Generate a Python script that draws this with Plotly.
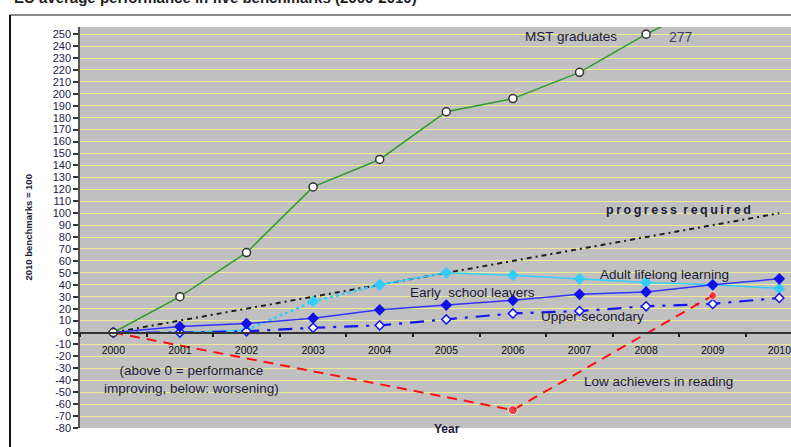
import plotly.graph_objects as go

# ---------------- data ----------------
years = [2000, 2001, 2002, 2003, 2004, 2005, 2006, 2007, 2008, 2009, 2010]
year_labels = [str(y) for y in years]

mst_graduates = [0, 30, 67, 122, 145, 185, 196, 218, 250, 277, None]
progress_required = [0, 10, 20, 30, 40, 50, 60, 70, 80, 90, 100]
adult_lifelong = [0, 0, 2, 26, 40, 50, 48, 45, 42, 40, 37]
early_school_leavers = [0, 5, 7.5, 12, 19, 23, 27, 32, 34, 40, 45]
upper_secondary = [0, 0, 1, 4, 6, 11, 16, 18, 22, 24, 29]
low_achievers = [0, None, None, None, None, None, -65, None, None, 31, None]

y_ticks = list(range(-80, 251, 10))

# break in adult lifelong learning series (2002-2004 dotted)
adult_break_years = [2002, 2003, 2004]

# ---------------- layout helpers ----------------
W, H = 791, 447
L, R, T, B = 80, 0, 27, 19
PW, PH = W - L - R, H - T - B
Y_MIN, Y_MAX = -80, 256
X_MIN = 1999.5
X_MAX = X_MIN + PW / 66.6


def px_x(p):
    return (p - L) / PW


def px_y(q):
    return (H - B - q) / PH


TXT = "#1c1c3a"
FONT = "Liberation Sans, Arial, sans-serif"

fig = go.Figure()

# progress required
fig.add_trace(go.Scatter(
    x=years, y=progress_required, mode="lines",
    line=dict(color="#202020", width=2, dash="5px,4px,2px,4px"),
    showlegend=False, hoverinfo="skip"))

# adult lifelong learning: solid parts + dotted break
adult_solid = [None if y == 2003 else v for y, v in zip(years, adult_lifelong)]
adult_dotted = [v if y in adult_break_years else None for y, v in zip(years, adult_lifelong)]
fig.add_trace(go.Scatter(
    x=years, y=adult_dotted, mode="lines+markers",
    line=dict(color="#33CCFF", width=2.5, dash="dot"),
    marker=dict(symbol="diamond", size=9, color="#33CCFF"),
    showlegend=False, hoverinfo="skip"))
fig.add_trace(go.Scatter(
    x=years, y=adult_solid, mode="lines+markers", connectgaps=False,
    line=dict(color="#33CCFF", width=1.5),
    marker=dict(symbol="diamond", size=9, color="#33CCFF"),
    showlegend=False, hoverinfo="skip"))

# upper secondary
fig.add_trace(go.Scatter(
    x=years, y=upper_secondary, mode="lines+markers",
    line=dict(color="#1414F0", width=2.2, dash="14px,8px,3px,8px"),
    marker=dict(symbol="diamond", size=7, color="white",
                line=dict(color="#1414F0", width=1.5)),
    showlegend=False, hoverinfo="skip"))

# early school leavers
fig.add_trace(go.Scatter(
    x=years, y=early_school_leavers, mode="lines+markers",
    line=dict(color="#3333FF", width=1.5),
    marker=dict(symbol="diamond", size=9, color="#1010E8"),
    showlegend=False, hoverinfo="skip"))

# low achievers in reading
fig.add_trace(go.Scatter(
    x=years, y=low_achievers, mode="lines+markers", connectgaps=True,
    line=dict(color="#FF1010", width=2, dash="10px,7px"),
    marker=dict(symbol="circle", size=[5, 0, 0, 0, 0, 0, 9, 0, 0, 8, 0], color="#FF1010"),
    showlegend=False, hoverinfo="skip"))

# MST graduates
fig.add_trace(go.Scatter(
    x=years, y=mst_graduates, mode="lines+markers",
    line=dict(color="#2E9B2E", width=1.5),
    marker=dict(symbol="circle", size=8, color="white",
                line=dict(color="#333333", width=1.5)),
    showlegend=False, hoverinfo="skip"))

TS = 13.5
thin = "\u2009"
annotations = [
    dict(x=2006.87, y=248, text="MST graduates", font=dict(size=TS, color=TXT)),
    dict(x=2008.48, y=103,
         text="<b>" + (thin.join("progress") + "\u2002" + thin.join("required")) + "</b>",
         font=dict(size=12.5, color=TXT)),
    dict(x=2008.27, y=48.6, text="Adult lifelong learning", font=dict(size=TS, color=TXT)),
    dict(x=2005.39, y=33.5, text="Early  school leavers", font=dict(size=TS, color=TXT)),
    dict(x=2007.20, y=13.4, text="Upper secondary", font=dict(size=TS, color=TXT)),
    dict(x=2008.18, y=-41, text="Low achievers in reading", font=dict(size=TS, color=TXT)),
    dict(x=2001.18, y=-39, text="(above 0 = performance<br>improving, below: worsening)",
         font=dict(size=TS, color=TXT)),
]
for a in annotations:
    a.update(xref="x", yref="y", showarrow=False, xanchor="center", yanchor="middle")
    a["font"]["family"] = FONT

# value label of the off-scale 2009 MST point
mst_2009 = mst_graduates[years.index(2009)]
annotations += [
    dict(xref="paper", yref="paper", x=px_x(695), y=px_y(27), text=str(mst_2009),
         showarrow=False, font=dict(size=14, color="#3a3a66", family=FONT)),
    dict(xref="paper", yref="paper", x=px_x(447), y=px_y(438), text="<b>Year</b>",
         showarrow=False, font=dict(size=12, color=TXT, family=FONT)),
    dict(xref="paper", yref="paper", x=px_x(20), y=px_y(228), text="<b>2010 benchmarks = 100</b>",
         textangle=-90, showarrow=False, font=dict(size=9.5, color=TXT, family=FONT)),
    dict(xref="paper", yref="paper", x=px_x(12), y=px_y(-2), xanchor="left", yanchor="middle",
         text="<b>EU average performance in five benchmarks (2000-2010)</b>",
         showarrow=False, font=dict(size=15, color="#202020", family=FONT)),
]

shapes = [
    dict(type="line", xref="paper", yref="paper", x0=px_x(10), x1=px_x(W + 5),
         y0=px_y(15), y1=px_y(15), line=dict(color="#8a8a8a", width=2)),
    dict(type="line", xref="paper", yref="paper", x0=px_x(10), x1=px_x(10),
         y0=px_y(15), y1=px_y(H + 5), line=dict(color="#111111", width=2)),
]

zero_pos = (0 - Y_MIN) / (Y_MAX - Y_MIN)

fig.update_layout(
    width=W, height=H,
    margin=dict(l=L, r=R, t=T, b=B, pad=0, autoexpand=False),
    paper_bgcolor="white",
    plot_bgcolor="#C0C0C0",
    annotations=annotations,
    shapes=shapes,
    font=dict(family=FONT, color=TXT),
    xaxis=dict(
        range=[X_MIN, X_MAX],
        tickmode="array", tickvals=years, ticktext=year_labels,
        ticks="outside", ticklen=8, tickcolor="rgba(0,0,0,0)",
        tickfont=dict(size=10.5, color="#111111", family=FONT),
        ticklabeloverflow="allow",
        showgrid=False, zeroline=False,
        showline=True, linecolor="#333333", linewidth=1.5,
        anchor="free", position=zero_pos,
        minor=dict(tickmode="linear", tick0=1999.5, dtick=1, ticks="outside",
                   ticklen=4, tickcolor="#222222", tickwidth=1.5, showgrid=False),
    ),
    yaxis=dict(
        range=[Y_MIN, Y_MAX],
        tickmode="array", tickvals=y_ticks, ticktext=[str(v) for v in y_ticks],
        ticks="outside", ticklen=5, tickcolor="#333333", tickwidth=1.5,
        tickfont=dict(size=11, color="#22224a", family=FONT),
        showgrid=True, gridcolor="#EEEE90", gridwidth=1.3,
        zeroline=False,
        showline=True, linecolor="#555555", linewidth=1.5,
    ),
)

fig.write_html("out.html", config={"displayModeBar": False},
               post_script="document.body.style.margin='0px';")
